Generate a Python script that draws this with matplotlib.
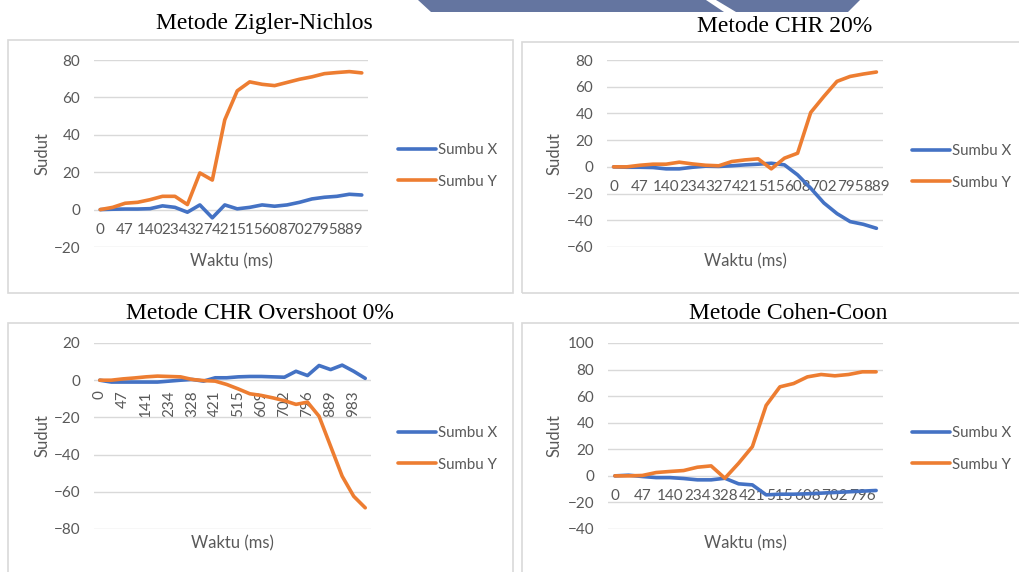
import matplotlib
matplotlib.use("Agg")
import matplotlib.pyplot as plt
from matplotlib.patches import Rectangle, Polygon

W, H = 1019, 572

# ---- data: time stamps (ms) and angles (degrees) per tuning method ----
zn_time = [0, 23, 47, 94, 140, 187, 234, 281, 327, 374, 421, 468, 515, 562,
           608, 655, 702, 749, 795, 842, 889, 936]
zn_x = [0, 0.2, 0.3, 0.3, 0.5, 2.0, 1.2, -1.4, 2.5, -4.4, 2.5, 0.4, 1.2, 2.5,
        1.8, 2.5, 3.9, 5.7, 6.6, 7.1, 8.2, 7.8]
zn_y = [0, 1.2, 3.4, 3.9, 5.3, 7.1, 7.1, 2.7, 19.6, 15.8, 48.0, 63.5, 68.3, 67.0,
        66.3, 68.0, 69.7, 71.0, 72.7, 73.3, 73.8, 73.1]

chr20_time = [0, 23, 47, 94, 140, 187, 234, 281, 327, 374, 421, 468, 515, 562,
              608, 655, 702, 749, 795, 842, 889]
chr20_x = [0, -0.3, -0.3, -0.5, -1.5, -1.5, -0.3, 0.5, 0.3, 0.8, 1.5, 2.0, 2.7, 1.5,
           -6.0, -16.0, -27.0, -35.0, -41.0, -43.0, -46.0]
chr20_y = [0, 0, 1.2, 2.0, 2.0, 3.5, 2.2, 1.2, 0.8, 4.0, 5.2, 6.0, -1.5, 6.5,
           10.2, 40.7, 52.7, 64.0, 67.7, 69.5, 71.0]

chr0_time = [0, 23, 47, 94, 141, 187, 234, 281, 328, 375, 421, 468, 515, 562,
             609, 655, 702, 749, 796, 842, 889, 936, 983, 1030]
chr0_x = [0, -1.0, -1.0, -1.0, -1.0, -1.0, -0.5, 0, 0.4, -0.5, 1.3, 1.3, 1.8, 2.0,
          2.0, 1.8, 1.6, 4.8, 2.5, 7.9, 5.7, 8.1, 4.8, 1.0]
chr0_y = [0, 0, 0.7, 1.2, 1.8, 2.2, 2.0, 1.8, 0.4, -0.2, -0.5, -2.3, -4.7, -7.3,
          -8.2, -9.5, -11.0, -13.0, -11.8, -19.4, -35.5, -51.6, -62.4, -68.6]

cc_time = [0, 23, 47, 94, 140, 187, 234, 281, 328, 375, 421, 468, 515, 562,
           608, 655, 702, 749, 796, 843]
cc_x = [0, 0.5, -0.5, -1.3, -1.3, -2.0, -3.0, -3.0, -1.8, -6.0, -6.8, -14.3, -13.8,
        -13.8, -13.5, -13.0, -12.5, -12.0, -11.5, -11.0]
cc_y = [0, 0, 0.3, 2.5, 3.3, 4.0, 6.5, 7.5, -1.8, 9.5, 22.0, 53.0, 67.0, 69.5,
        74.5, 76.3, 75.3, 76.3, 78.3, 78.3]

series_names = ["Sumbu X", "Sumbu Y"]

BLUE = "#4472C4"
ORANGE = "#ED7D31"
GRID = "#d9d9d9"
TEXT = "#595959"

plt.rcParams["font.family"] = ["Lato", "DejaVu Sans"]

fig = plt.figure(figsize=(W / 100, H / 100), dpi=100)
fig.patch.set_facecolor("white")


def frac(x0, y0, x1, y1):
    return [x0 / W, 1 - y1 / H, (x1 - x0) / W, (y1 - y0) / H]


# header ribbon
for pts in ([(418, 0), (706, 0), (724, 12), (431, 12)],
            [(716, 0), (860, 0), (848, 12), (736, 12)]):
    fig.patches.append(Polygon([(x / W, 1 - y / H) for x, y in pts], closed=True,
                               transform=fig.transFigure, facecolor="#6475a0",
                               edgecolor="none", zorder=-1))


def panel(box, rect, title, title_xy, times, xs, ys, ylim, ystep, rotate, leg_xy, ylab_x):
    bx0, by0, bx1, by1 = box
    fig.patches.append(Rectangle((bx0 / W, 1 - by1 / H), (bx1 - bx0) / W, (by1 - by0) / H,
                                 transform=fig.transFigure, facecolor="none",
                                 edgecolor=GRID, lw=1.2, zorder=-1))
    fig.text(title_xy[0] / W, 1 - title_xy[1] / H, title, ha="center", va="baseline",
             fontsize=17, family="Liberation Serif", color="black")

    ax = fig.add_axes(frac(*rect))
    ax.set_facecolor("none")
    n = len(times)
    idx = list(range(n))
    ax.plot(idx, xs, color=BLUE, lw=2.6, solid_capstyle="round",
            solid_joinstyle="round", label=series_names[0])
    ax.plot(idx, ys, color=ORANGE, lw=2.6, solid_capstyle="round",
            solid_joinstyle="round", label=series_names[1])

    ax.set_xlim(-0.5, n - 0.5)
    ax.set_ylim(*ylim)
    ax.set_yticks(range(ylim[0], ylim[1] + 1, ystep))
    ax.set_xticks(idx[::2])
    ax.set_xticklabels([str(t) for t in times[::2]])
    ax.yaxis.grid(True, color=GRID, lw=1)
    ax.set_axisbelow(True)
    for s in ("left", "right", "top"):
        ax.spines[s].set_visible(False)
    ax.spines["bottom"].set_position(("data", 0))
    ax.spines["bottom"].set_color("none")
    ax.tick_params(axis="y", length=0, pad=10, labelsize=11, labelcolor=TEXT)
    ax.tick_params(axis="x", length=0, pad=9.5 if not rotate else 7, labelsize=11,
                   labelcolor=TEXT, labelrotation=90 if rotate else 0)

    x0, y0, x1, y1 = rect
    ax.set_xlabel("Waktu (ms)", fontsize=12, color=TEXT)
    ax.xaxis.set_label_coords(0.5, -14.5 / (y1 - y0))
    ax.xaxis.label.set_va("center")
    ax.set_ylabel("Sudut", fontsize=12, color=TEXT)
    ax.yaxis.set_label_coords((ylab_x - x0) / (x1 - x0), 0.5)
    ax.yaxis.label.set_va("center")

    leg = ax.legend(loc="center left",
                    bbox_to_anchor=((leg_xy[0] - x0) / (x1 - x0), (y1 - leg_xy[1]) / (y1 - y0)),
                    frameon=False, borderpad=0, borderaxespad=0, handlelength=2.5,
                    handletextpad=0.15, labelspacing=1.15, fontsize=10.8)
    for t in leg.get_texts():
        t.set_color(TEXT)
    return ax


panel((8, 40, 513, 293), (94, 60, 368, 247), "Metode Zigler-Nichlos", (264, 29),
      zn_time, zn_x, zn_y, (-20, 80), 20, False, (398, 166), 42)
panel((522, 42, 1030, 293), (607, 60, 883, 247), "Metode CHR 20%", (785, 32),
      chr20_time, chr20_x, chr20_y, (-60, 80), 20, False, (912, 167), 555)
panel((8, 323, 513, 590), (94, 343, 371, 529), "Metode CHR Overshoot 0%", (260, 319),
      chr0_time, chr0_x, chr0_y, (-80, 20), 20, True, (398, 449), 42)
panel((522, 323, 1030, 590), (608, 343, 883, 529), "Metode Cohen-Coon", (788, 319),
      cc_time, cc_x, cc_y, (-40, 100), 20, False, (912, 449), 555)

fig.savefig("out.png", dpi=100, facecolor="white")
